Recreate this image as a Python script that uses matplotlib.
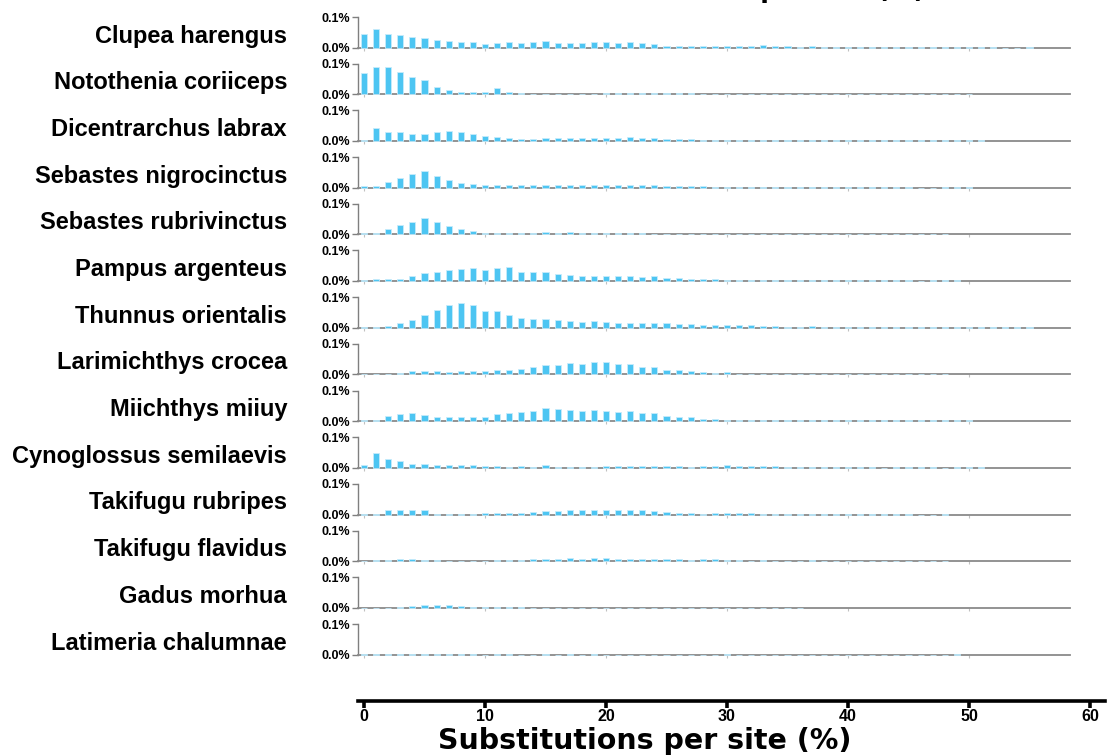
import matplotlib
matplotlib.use("Agg")
import matplotlib.pyplot as plt
import numpy as np

# Repeat landscape: share of genome (%) per 1% bin of substitutions per site
species = [
    "Clupea harengus", "Notothenia coriiceps", "Dicentrarchus labrax",
    "Sebastes nigrocinctus", "Sebastes rubrivinctus", "Pampus argenteus",
    "Thunnus orientalis", "Larimichthys crocea", "Miichthys miiuy",
    "Cynoglossus semilaevis", "Takifugu rubripes", "Takifugu flavidus",
    "Gadus morhua", "Latimeria chalumnae",
]

clupea_harengus = [
    0.045, 0.060, 0.045, 0.041, 0.034, 0.032, 0.026, 0.022, 0.019, 0.019,
    0.013, 0.015, 0.019, 0.015, 0.019, 0.022, 0.015, 0.015, 0.015, 0.019,
    0.017, 0.015, 0.017, 0.015, 0.012, 0.006, 0.006, 0.006, 0.006, 0.005,
    0.005, 0.005, 0.005, 0.007, 0.005, 0.005, 0.003, 0.005, 0.003, 0.003,
    0.003, 0.003, 0.003, 0.003, 0.003, 0.002, 0.002, 0.002, 0.002, 0.002,
    0.002, 0.002, 0.002, 0.0, 0.0, 0.002,
]
notothenia_coriiceps = [
    0.068, 0.090, 0.088, 0.072, 0.055, 0.045, 0.024, 0.014, 0.0075, 0.0075,
    0.0075, 0.019, 0.0075, 0.004, 0.002, 0.002, 0.002, 0.002, 0.002, 0.002,
    0.003, 0.003, 0.003, 0.003, 0.003, 0.003, 0.003, 0.003, 0.002, 0.002,
    0.002, 0.002, 0.002, 0.002, 0.002, 0.002, 0.002, 0.002, 0.002, 0.002,
    0.002, 0.002, 0.002, 0.002, 0.002, 0.002, 0.0, 0.0, 0.002, 0.002,
    0.002,
]
dicentrarchus_labrax = [
    0.003, 0.042, 0.029, 0.029, 0.023, 0.023, 0.029, 0.032, 0.029, 0.023,
    0.015, 0.012, 0.009, 0.0065, 0.0065, 0.009, 0.009, 0.009, 0.009, 0.009,
    0.009, 0.009, 0.012, 0.009, 0.009, 0.0065, 0.0065, 0.0065, 0.004, 0.004,
    0.002, 0.002, 0.002, 0.002, 0.002, 0.002, 0.002, 0.004, 0.004, 0.004,
    0.004, 0.004, 0.002, 0.002, 0.002, 0.002, 0.002, 0.002, 0.002, 0.002,
    0.002, 0.002,
]
sebastes_nigrocinctus = [
    0.005, 0.005, 0.018, 0.033, 0.043, 0.054, 0.038, 0.025, 0.015, 0.012,
    0.0097, 0.0097, 0.0075, 0.0075, 0.0075, 0.0075, 0.0075, 0.0075, 0.0075, 0.0097,
    0.0075, 0.0075, 0.0075, 0.0075, 0.0075, 0.005, 0.005, 0.005, 0.005, 0.003,
    0.003, 0.003, 0.002, 0.002, 0.002, 0.002, 0.002, 0.002, 0.002, 0.002,
    0.002, 0.002, 0.002, 0.002, 0.002, 0.002, 0.0, 0.0, 0.002, 0.002,
    0.002,
]
sebastes_rubrivinctus = [
    0.005, 0.005, 0.016, 0.029, 0.039, 0.052, 0.039, 0.028, 0.016, 0.011,
    0.005, 0.005, 0.005, 0.005, 0.005, 0.0075, 0.005, 0.0075, 0.005, 0.005,
    0.005, 0.005, 0.005, 0.003, 0.002, 0.002, 0.002, 0.002, 0.002, 0.002,
    0.002, 0.002, 0.002, 0.002, 0.002, 0.002, 0.002, 0.002, 0.002, 0.002,
    0.002, 0.002, 0.002, 0.002, 0.002, 0.002, 0.002, 0.002, 0.002,
]
pampus_argenteus = [
    0.002, 0.005, 0.005, 0.0076, 0.015, 0.025, 0.030, 0.036, 0.038, 0.043,
    0.036, 0.043, 0.046, 0.030, 0.030, 0.030, 0.023, 0.021, 0.018, 0.018,
    0.018, 0.015, 0.015, 0.013, 0.015, 0.0098, 0.0098, 0.0076, 0.0065, 0.005,
    0.004, 0.002, 0.002, 0.002, 0.002, 0.002, 0.002, 0.002, 0.002, 0.002,
    0.002, 0.002, 0.002, 0.002, 0.002, 0.002, 0.0, 0.002, 0.002, 0.002,
]
thunnus_orientalis = [
    0.002, 0.002, 0.005, 0.016, 0.024, 0.042, 0.059, 0.075, 0.080, 0.073,
    0.054, 0.054, 0.042, 0.031, 0.027, 0.029, 0.024, 0.0215, 0.018, 0.0215,
    0.018, 0.016, 0.016, 0.016, 0.016, 0.014, 0.012, 0.012, 0.009, 0.008,
    0.008, 0.008, 0.008, 0.004, 0.004, 0.002, 0.002, 0.004, 0.002, 0.002,
    0.002, 0.0012, 0.0012, 0.0012, 0.0012, 0.0012, 0.0012, 0.0012, 0.0012, 0.0012,
    0.0012, 0.0012, 0.0012, 0.0012, 0.0012, 0.0012,
]
larimichthys_crocea = [
    0.002, 0.002, 0.002, 0.003, 0.0097, 0.012, 0.0097, 0.0086, 0.012, 0.012,
    0.012, 0.015, 0.015, 0.017, 0.023, 0.030, 0.030, 0.038, 0.033, 0.041,
    0.041, 0.033, 0.033, 0.024, 0.023, 0.016, 0.014, 0.011, 0.007, 0.005,
    0.007, 0.002, 0.002, 0.002, 0.002, 0.002, 0.002, 0.002, 0.002, 0.002,
    0.002, 0.002, 0.002, 0.002, 0.002, 0.002, 0.002, 0.002, 0.002,
]
miichthys_miiuy = [
    0.002, 0.005, 0.017, 0.023, 0.025, 0.019, 0.015, 0.013, 0.013, 0.013,
    0.015, 0.023, 0.028, 0.030, 0.032, 0.042, 0.041, 0.035, 0.032, 0.038,
    0.032, 0.030, 0.032, 0.025, 0.025, 0.017, 0.013, 0.013, 0.008, 0.006,
    0.005, 0.003, 0.002, 0.002, 0.002, 0.002, 0.002, 0.002, 0.002, 0.002,
    0.002, 0.002, 0.002, 0.002, 0.002, 0.002, 0.002, 0.002, 0.002, 0.002,
    0.002,
]
cynoglossus_semilaevis = [
    0.0096, 0.049, 0.029, 0.021, 0.014, 0.014, 0.0096, 0.0096, 0.0096, 0.0096,
    0.0064, 0.0064, 0.004, 0.0064, 0.004, 0.0096, 0.003, 0.003, 0.003, 0.003,
    0.0064, 0.0064, 0.0064, 0.0064, 0.0064, 0.0064, 0.0064, 0.004, 0.0064, 0.0064,
    0.0096, 0.0064, 0.0064, 0.0064, 0.0064, 0.003, 0.003, 0.002, 0.002, 0.002,
    0.002, 0.002, 0.002, 0.0, 0.002, 0.002, 0.002, 0.002, 0.0, 0.002,
    0.002, 0.002,
]
takifugu_rubripes = [
    0.001, 0.001, 0.014, 0.014, 0.016, 0.016, 0.003, 0.001, 0.001, 0.003,
    0.005, 0.005, 0.005, 0.005, 0.0086, 0.011, 0.011, 0.014, 0.014, 0.016,
    0.016, 0.016, 0.016, 0.014, 0.011, 0.0086, 0.005, 0.005, 0.003, 0.005,
    0.005, 0.005, 0.005, 0.003, 0.002, 0.003, 0.002, 0.002, 0.002, 0.002,
    0.002, 0.002, 0.002, 0.002, 0.002, 0.002, 0.0, 0.0, 0.002,
]
takifugu_flavidus = [
    0.002, 0.003, 0.003, 0.0065, 0.0065, 0.003, 0.003, 0.0, 0.001, 0.001,
    0.001, 0.003, 0.003, 0.003, 0.0065, 0.0086, 0.0086, 0.011, 0.0086, 0.011,
    0.011, 0.0086, 0.0086, 0.0086, 0.0086, 0.0065, 0.0065, 0.003, 0.0065, 0.0065,
    0.003, 0.003, 0.001, 0.003, 0.001, 0.001, 0.001, 0.003, 0.0, 0.001,
    0.001, 0.001, 0.001, 0.001, 0.001, 0.0, 0.001, 0.0, 0.001,
]
gadus_morhua = [
    0.001, 0.001, 0.001, 0.003, 0.0065, 0.0097, 0.0097, 0.0097, 0.0065, 0.003,
    0.003, 0.003, 0.003, 0.003, 0.001, 0.001, 0.001, 0.001, 0.001, 0.001,
    0.001, 0.001, 0.001, 0.001, 0.001, 0.001, 0.001, 0.001, 0.001, 0.001,
    0.001, 0.001, 0.001, 0.0, 0.001, 0.0, 0.001,
]
latimeria_chalumnae = [
    0.0008, 0.0008, 0.0008, 0.0008, 0.0008, 0.0008, 0.0008, 0.0008, 0.0008, 0.0008,
    0.0, 0.0008, 0.0008, 0.0, 0.0, 0.0008, 0.0, 0.0008, 0.0, 0.0008,
    0.0, 0.0, 0.0, 0.0, 0.0, 0.0, 0.0, 0.0, 0.0, 0.0,
    0.0008, 0.0, 0.0, 0.0, 0.0, 0.0, 0.0, 0.0, 0.0, 0.0,
    0.0, 0.0, 0.0, 0.0, 0.0, 0.0, 0.0, 0.0, 0.0, 0.0008,
]

series = [
    clupea_harengus, notothenia_coriiceps, dicentrarchus_labrax,
    sebastes_nigrocinctus, sebastes_rubrivinctus, pampus_argenteus,
    thunnus_orientalis, larimichthys_crocea, miichthys_miiuy,
    cynoglossus_semilaevis, takifugu_rubripes, takifugu_flavidus,
    gadus_morhua, latimeria_chalumnae,
]

y_ticks = [0.0, 0.1]
y_tick_labels = ["0.0%", "0.1%"]
x_ticks = [0, 10, 20, 30, 40, 50, 60]
x_label = "Substitutions per site (%)"

BAR = "#4DC5F2"
BAR_EDGE = "#c6ebfb"
GRID_GREY = "#8a8a8a"

W, H = 1109, 755
fig = plt.figure(figsize=(W / 100, H / 100), dpi=100)
fig.patch.set_facecolor("white")

# pixel geometry of the panel stack
left_px, right_px = 358, 1070
origin_px, unit_px = 364, 12.1
row_pitch, row_h, first_base = 46.7, 30.5, 47.5
x_lo = (left_px - origin_px) / unit_px
x_hi = (right_px - origin_px) / unit_px

label_font = ["Liberation Sans", "DejaVu Sans"]

for i, (name, vals) in enumerate(zip(species, series)):
    base_px = first_base + row_pitch * i
    ax = fig.add_axes([left_px / W, (H - base_px) / H,
                       (right_px - left_px) / W, row_h / H])
    ax.set_facecolor("none")
    x = np.arange(len(vals))
    ax.bar(x, vals, width=0.5, color=BAR, edgecolor=BAR_EDGE,
           linewidth=0.6, zorder=3, clip_on=False)
    ax.set_xlim(x_lo, x_hi)
    ax.set_ylim(0, 0.1)
    for s in ("top", "right"):
        ax.spines[s].set_visible(False)
    ax.spines["left"].set_color("#7f7f7f")
    ax.spines["left"].set_linewidth(1.0)
    ax.spines["bottom"].set_color(GRID_GREY)
    ax.spines["bottom"].set_linewidth(1.3)
    ax.set_yticks(y_ticks)
    ax.set_yticklabels(y_tick_labels, fontsize=9, fontweight="bold",
                       family=label_font)
    ax.tick_params(axis="y", length=4, width=1.0, color="#7f7f7f", pad=2)
    ax.set_xticks(x_ticks[:-1])
    ax.set_xticklabels([])
    ax.tick_params(axis="x", length=2.5, width=0.8, color="#c0c0c0")
    fig.text(287 / W, (H - (base_px - 11.5)) / H, name, ha="right",
             va="center", fontsize=17, fontweight="bold", family=label_font)

# shared bottom scale
bottom_right = 1105
ax_b = fig.add_axes([left_px / W, (H - 701) / H,
                     (bottom_right - left_px) / W, 0.0001])
ax_b.set_facecolor("none")
ax_b.set_xlim(x_lo, (bottom_right - origin_px) / unit_px)
for s in ("top", "right", "left"):
    ax_b.spines[s].set_visible(False)
ax_b.spines["bottom"].set_color("black")
ax_b.spines["bottom"].set_linewidth(2.6)
ax_b.set_yticks([])
ax_b.set_xticks(x_ticks)
ax_b.set_xticklabels([str(t) for t in x_ticks], fontsize=11.5,
                     fontweight="bold", family=label_font)
ax_b.tick_params(axis="x", length=5, width=2.6, color="black", pad=1)

fig.text(645 / W, (H - 741) / H, x_label, ha="center", va="center",
         fontsize=20.5, fontweight="bold", family="DejaVu Sans")

# heading running off the top edge
fig.text(925 / W, 1 + 2.0 / H, x_label, ha="right", va="baseline",
         fontsize=18, fontweight="bold", family="DejaVu Sans")

fig.savefig("out.png", dpi=100)
